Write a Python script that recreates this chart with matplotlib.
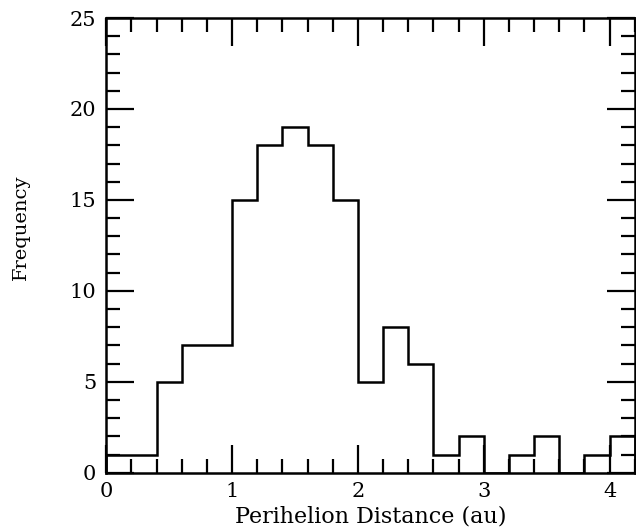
import matplotlib.pyplot as plt
import numpy as np
from matplotlib.ticker import MultipleLocator

# Perihelion distance histogram, 0.2 au bins
bin_edges = [0.0, 0.2, 0.4, 0.6, 0.8, 1.0, 1.2, 1.4, 1.6, 1.8, 2.0,
             2.2, 2.4, 2.6, 2.8, 3.0, 3.2, 3.4, 3.6, 3.8, 4.0, 4.2]
counts = [1, 1, 5, 7, 7, 15, 18, 19, 18, 15, 5,
          8, 6, 1, 2, 0, 1, 2, 0, 1, 2]

plt.rcParams['font.family'] = ['DejaVu Serif']

fig = plt.figure(figsize=(6.36, 5.30), dpi=100)
ax = fig.add_axes([0.167, 0.108, 0.831, 0.858])

ax.stairs(counts, bin_edges, color='black', lw=1.8)

ax.set_xlim(0, 4.2)
ax.set_ylim(0, 25)
ax.xaxis.set_major_locator(MultipleLocator(1))
ax.xaxis.set_minor_locator(MultipleLocator(0.2))
ax.yaxis.set_major_locator(MultipleLocator(5))
ax.yaxis.set_minor_locator(MultipleLocator(1))

ax.tick_params(which='both', direction='in', top=True, right=True,
               width=1.6, labelsize=15, pad=7)
ax.tick_params(which='major', length=20)
ax.tick_params(which='minor', length=10)
for s in ax.spines.values():
    s.set_linewidth(1.8)

ax.set_xlabel('Perihelion Distance (au)', fontsize=16)
ax.xaxis.set_label_coords(0.5, -0.073)
ax.set_ylabel('Frequency', fontsize=14)
ax.yaxis.set_label_coords(-0.145, 0.54)

fig.savefig('out.png', dpi=100)
